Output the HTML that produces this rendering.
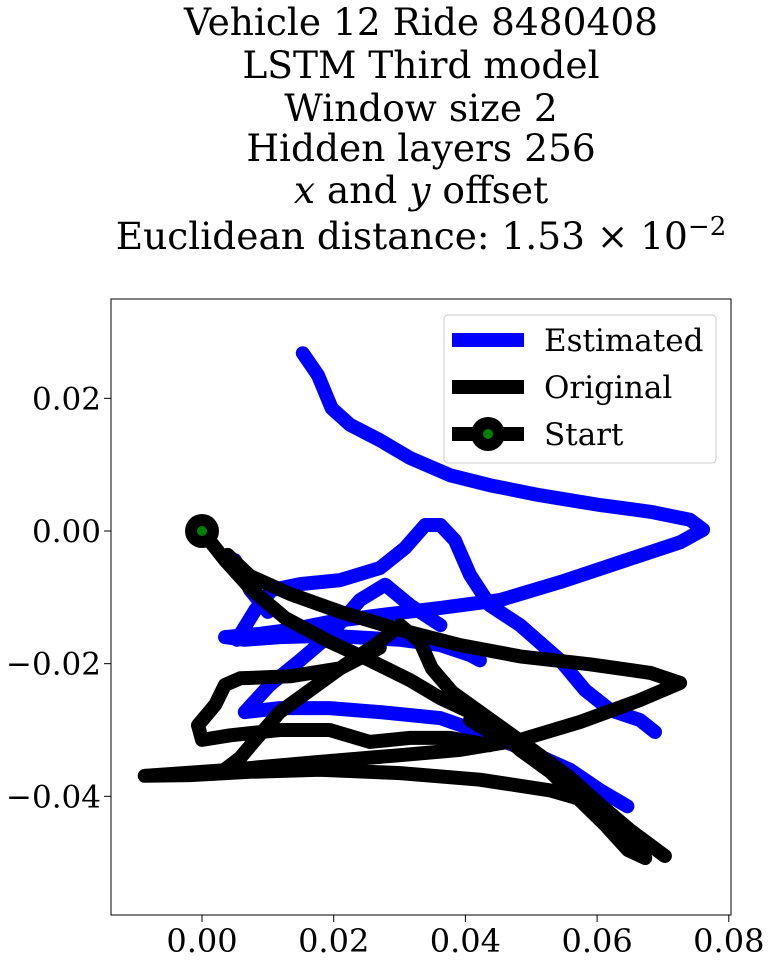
<!DOCTYPE html>
<html><head><meta charset="utf-8"><style>
html,body{margin:0;padding:0;background:#fff;width:771px;height:962px;overflow:hidden}
svg{display:block}
text{font-family:"DejaVu Serif","Liberation Serif",serif;fill:#000}
</style></head><body>
<svg id="chart" width="771" height="962" viewBox="0 0 771 962" xmlns="http://www.w3.org/2000/svg">
<g font-size="37.5" text-anchor="middle">
<text x="421" y="35">Vehicle 12 Ride 8480408</text>
<text x="421" y="78">LSTM Third model</text>
<text x="421" y="121">Window size 2</text>
<text x="421" y="161">Hidden layers 256</text>
<text x="421" y="203"><tspan font-style="italic">x</tspan> and <tspan font-style="italic">y</tspan> offset</text>
<text x="421" y="249">Euclidean distance: 1.53 × 10<tspan dy="-14" font-size="26">−2</tspan></text>
</g>
<g id="plot"></g>
</svg>
<script>
// values in units of 1e-3 (data = value / 1000); null separates segments
const estX = [15.3,17.6,19.7,22.5,27.0,31.6,37.7,43.7,51.3,60.5,68.1,74.1,76.1,72.6,63.5,54.4,45.3,36.2,27.0,19.4,13.4,8.8,3.5,6.5,11.8,19.4,30.1,36.2,40.7,42.2,null,
5.3,8.1,10.6,14.9,21.0,27.0,30.8,33.9,36.2,38.4,40.7,43.7,48.3,54.4,58.2,62.0,66.5,68.8,null,
6.5,10.3,14.9,19.4,24.0,27.8,31.6,36.2,null,
6.5,11.8,19.4,27.0,36.2,43.7,49.8,55.9,60.5,64.6,null,
5.0,7.3,10.0];
const estY = [26.8,23.5,18.5,16.0,13.7,11.0,8.4,6.9,5.4,3.9,2.9,1.7,0.2,-1.7,-4.7,-7.7,-10.4,-11.6,-12.7,-13.7,-14.9,-15.5,-16.0,-16.4,-16.0,-15.8,-16.4,-17.2,-18.7,-19.5,null,
-16.4,-11.9,-8.9,-8.0,-7.4,-5.6,-2.6,0.9,0.9,-1.4,-6.6,-11.2,-14.2,-19.5,-24.0,-27.0,-28.5,-30.3,null,
-27.3,-23.2,-19.5,-15.7,-10.4,-8.1,-11.2,-14.2,null,
-27.3,-26.7,-26.7,-27.3,-28.2,-30.8,-33.3,-36.0,-39.1,-41.5,null,
-4.4,-8.9,-12.2];
const origX = [0,3.5,7.6,12.6,19.4,25.5,31.6,36.2,40.7,44.5,48.3,52.9,57.4,61.2,64.7,67.3,65.0,60.5,52.9,42.2,30.1,17.9,7.3,-1.8,-8.7,4.3,17.9,30.1,39.2,48.3,57.4,66.5,72.6,68.1,58.9,48.3,39.2,30.1,21.0,13.4,7.3,3.9,null,
30.1,33.1,34.9,38.0,42.2,46.0,51.3,55.9,60.5,65.0,70.3,null,
30.1,26.3,21.7,16.4,11.8,8.1,5.8,3.0,null,
27.0,21.0,13.4,5.8,3.5,2.0,-0.6,0,4.3,11.8,19.4,25.5,31.6,37.7,43.7,44.5,40.7];
const origY = [0,-4.4,-8.9,-13.1,-16.7,-19.5,-22.5,-25.2,-27.3,-29.7,-33.0,-36.3,-40.6,-44.3,-48.1,-49.3,-46.9,-41.3,-39.1,-37.5,-36.5,-36.0,-36.3,-36.8,-36.9,-36.0,-34.8,-33.8,-33.0,-31.5,-28.8,-25.5,-22.9,-21.4,-20.1,-18.9,-17.2,-14.9,-12.2,-9.5,-6.8,-3.6,null,
-14.2,-16.7,-20.7,-24.3,-27.3,-30.0,-33.8,-37.2,-41.3,-45.1,-49.0,null,
-14.2,-17.2,-20.2,-24.0,-27.3,-31.5,-34.2,-36.3,null,
-17.6,-20.7,-21.9,-22.2,-23.2,-26.2,-29.3,-31.5,-30.8,-30.0,-30.0,-31.8,-31.2,-31.2,-32.3,-30.8,-28.5];
const startPt = [0,0];
const xTicks = [0,0.02,0.04,0.06,0.08];
const xTickLabels = ["0.00","0.02","0.04","0.06","0.08"];
const yTicks = [0.02,0,-0.02,-0.04];
const yTickLabels = ["0.02","0.00","\u22120.02","\u22120.04"];

const L=111,R=731,T=299,B=915;
const sx = v => 202 + v*6585;
const sy = v => 531 - v*6633;
const NS="http://www.w3.org/2000/svg";
const plot=document.getElementById('plot');
function mk(tag,attrs,parent){const e=document.createElementNS(NS,tag);for(const k in attrs)e.setAttribute(k,attrs[k]);(parent||plot).appendChild(e);return e;}

const frame=mk('rect',{x:L,y:T,width:R-L,height:B-T,fill:'#fff',stroke:'#000','stroke-width':1});



function pathFrom(xs,ys){let d='',pen=false;for(let i=0;i<xs.length;i++){if(xs[i]===null){pen=false;continue;}const X=sx(xs[i]/1000).toFixed(1),Y=sy(ys[i]/1000).toFixed(1);d+=(pen?'L':'M')+X+' '+Y+' ';pen=true;}return d;}
const est=mk('path',{d:pathFrom(estX,estY),fill:'none',stroke:'#0000ff','stroke-width':14,'stroke-linecap':'round','stroke-linejoin':'round'});


const orig=mk('path',{d:pathFrom(origX,origY),fill:'none',stroke:'#000','stroke-width':14,'stroke-linecap':'round','stroke-linejoin':'round'});


const sm=mk('circle',{cx:sx(startPt[0]),cy:sy(startPt[1]),r:17,fill:'#000'});


mk('circle',{cx:sx(startPt[0]),cy:sy(startPt[1]),r:5,fill:'#008000'});

xTicks.forEach((v,i)=>{
  mk('line',{x1:sx(v),x2:sx(v),y1:B,y2:B+7,stroke:'#000','stroke-width':1});
  const t=mk('text',{x:sx(v),y:B+37,'font-size':32,'text-anchor':'middle'});
  t.textContent=xTickLabels[i];
  
  
});
yTicks.forEach((v,i)=>{
  mk('line',{x1:L-7,x2:L,y1:sy(v),y2:sy(v),stroke:'#000','stroke-width':1});
  const t=mk('text',{x:L-10,y:sy(v)+11,'font-size':31,'text-anchor':'end'});
  t.textContent=yTickLabels[i];
  
  
});

const leg=mk('g',{});


mk('rect',{x:444,y:315,width:272,height:148,rx:4,fill:'#fff','fill-opacity':0.8,stroke:'#ccc','stroke-width':1},leg);
const entries=[["Estimated","#0000ff",false],["Original","#000",false],["Start","#000",true]];
entries.forEach((e,i)=>{
  const y=340+i*47;
  const g=mk('g',{},leg);
  
  
  mk('line',{x1:452,x2:524,y1:y,y2:y,stroke:e[1],'stroke-width':14},g);
  if(e[2]){mk('circle',{cx:488,cy:y,r:17,fill:'#000'},g);mk('circle',{cx:488,cy:y,r:5,fill:'#008000'},g);}
  const t=mk('text',{x:544,y:y+11,'font-size':31},g);
  t.textContent=e[0];
});
</script>
</body></html>
